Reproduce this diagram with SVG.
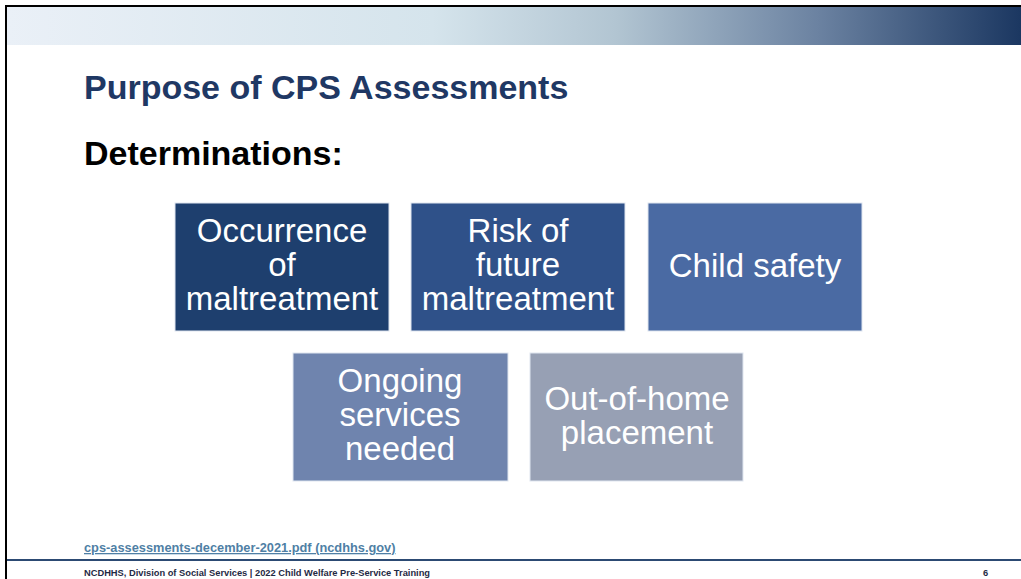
<svg xmlns="http://www.w3.org/2000/svg" width="1021" height="579" viewBox="0 0 1021 579">
<defs>
<linearGradient id="bar" x1="0" y1="0" x2="1" y2="0">
<stop offset="0" stop-color="#eaf0f7"/>
<stop offset="0.42" stop-color="#d5e4ec"/>
<stop offset="0.6" stop-color="#b2c5d2"/>
<stop offset="0.8" stop-color="#6b82a1"/>
<stop offset="1" stop-color="#1b3761"/>
</linearGradient>
<style>
.box{stroke:#dfe6f0;stroke-width:1}
.lbl{font-family:"Liberation Sans",Arial,sans-serif;font-size:33px;fill:#ffffff;text-anchor:middle}
.h{font-family:"Liberation Sans",Arial,sans-serif;font-weight:bold;font-size:34px}
</style>
</defs>
<rect x="0" y="0" width="1021" height="579" fill="#ffffff"/>
<rect x="7" y="7" width="1014" height="38" fill="url(#bar)"/>
<line x1="6" y1="6" x2="1021" y2="6" stroke="#000" stroke-width="2"/>
<line x1="6" y1="5" x2="6" y2="579" stroke="#000" stroke-width="2"/>
<line x1="7" y1="560" x2="1021" y2="560" stroke="#2c4a73" stroke-width="2"/>
<text x="84" y="99" class="h" fill="#1f3864">Purpose of CPS Assessments</text>
<text x="84" y="165" class="h" fill="#000000">Determinations:</text>
<g id="connectors"></g>
<g id="n1"><rect class="box" x="175" y="203" width="214" height="128" fill="#1e3f6e"/>
<text class="lbl" x="282" y="242">Occurrence</text><text class="lbl" x="282" y="276">of</text><text class="lbl" x="282" y="310">maltreatment</text></g>
<g id="n2"><rect class="box" x="411" y="203" width="214" height="128" fill="#2f5189"/>
<text class="lbl" x="518" y="242">Risk of</text><text class="lbl" x="518" y="276">future</text><text class="lbl" x="518" y="310">maltreatment</text></g>
<g id="n3"><rect class="box" x="648" y="203" width="214" height="128" fill="#4a6aa3"/>
<text class="lbl" x="755" y="277">Child safety</text></g>
<g id="n4"><rect class="box" x="293" y="353" width="215" height="128" fill="#6f84ae"/>
<text class="lbl" x="400" y="392">Ongoing</text><text class="lbl" x="400" y="426">services</text><text class="lbl" x="400" y="460">needed</text></g>
<g id="n5"><rect class="box" x="530" y="353" width="213" height="128" fill="#97a0b4"/>
<text class="lbl" x="637" y="410">Out-of-home</text><text class="lbl" x="637" y="444">placement</text></g>
<text x="84" y="552" font-family="Liberation Sans,Arial,sans-serif" font-weight="bold" font-size="12.8" fill="#4f7fa5" text-decoration="underline">cps-assessments-december-2021.pdf (ncdhhs.gov)</text>
<text x="84" y="576" font-family="Liberation Sans,Arial,sans-serif" font-weight="bold" font-size="9.3" fill="#1f2a44">NCDHHS, Division of Social Services | 2022 Child Welfare Pre-Service Training</text>
<text x="983" y="576" font-family="Liberation Sans,Arial,sans-serif" font-weight="bold" font-size="9.3" fill="#1f2a44">6</text>
</svg>
